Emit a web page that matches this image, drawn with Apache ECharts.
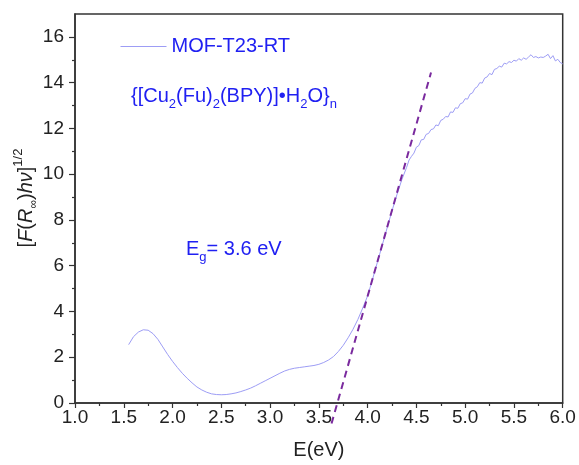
<!DOCTYPE html>
<html>
<head>
<meta charset="utf-8">
<script src="https://cdn.jsdelivr.net/npm/echarts@6/dist/echarts.min.js"></script>
<style>
html,body{margin:0;padding:0;background:#fff;}
#chart{width:579px;height:465px;}
</style>
</head>
<body>
<div id="chart"></div>
<script>
// ---- data ----
var energySmooth = [1.55,1.60,1.65,1.70,1.75,1.80,1.85,1.90,1.95,2.00,2.05,2.10,2.15,2.20,2.25,2.30,2.35,2.40,2.45,2.50,2.55,2.60,2.65,2.70,2.75,2.80,2.85,2.90,2.95,3.00,3.05,3.10,3.15,3.20,3.25,3.30,3.35,3.40,3.45,3.50,3.55,3.60,3.65,3.70,3.75,3.80,3.85,3.90,3.95,4.00,4.05,4.10,4.15,4.20,4.25,4.30,4.35];
var kmSmooth = [2.55,2.90,3.10,3.20,3.18,3.03,2.78,2.45,2.12,1.82,1.55,1.30,1.08,0.88,0.70,0.57,0.47,0.40,0.37,0.36,0.37,0.40,0.44,0.50,0.57,0.65,0.75,0.86,0.97,1.08,1.19,1.30,1.40,1.47,1.52,1.55,1.58,1.61,1.64,1.69,1.77,1.88,2.03,2.25,2.52,2.85,3.22,3.65,4.15,4.68,5.40,6.15,6.90,7.65,8.40,9.10,9.75];
var energyNoisy = [4.400,4.425,4.450,4.475,4.500,4.525,4.550,4.575,4.600,4.625,4.650,4.675,4.700,4.725,4.750,4.775,4.800,4.825,4.850,4.875,4.900,4.925,4.950,4.975,5.000,5.025,5.050,5.075,5.100,5.125,5.150,5.175,5.200,5.225,5.250,5.275,5.300,5.325,5.350,5.375,5.400,5.425,5.450,5.475,5.500,5.525,5.550,5.575,5.600,5.625,5.650,5.675,5.700,5.725,5.750,5.775,5.800,5.825,5.850,5.875,5.900,5.925,5.950,5.975,6.000];
var kmNoisy = [10.30,10.62,10.78,10.92,11.18,11.25,11.50,11.52,11.74,11.78,11.95,11.98,12.15,12.12,12.35,12.40,12.52,12.50,12.72,12.70,12.90,12.88,13.08,13.12,13.30,13.28,13.50,13.55,13.75,13.82,14.00,13.98,14.20,14.25,14.40,14.35,14.58,14.62,14.72,14.68,14.85,14.82,14.92,14.88,14.98,14.94,15.05,14.98,15.08,15.02,15.12,15.22,15.10,15.14,15.08,15.12,15.10,15.16,15.24,15.05,15.18,14.95,15.02,14.88,14.82];
var fitEnergy = [3.63, 4.65];
var fitValue = [-0.9, 14.44];
var yMajorTicks = [0,2,4,6,8,10,12,14,16];
var yMinorTicks = [1,3,5,7,9,11,13,15];
var seriesName = 'MOF-T23-RT';

// ---- build ----
var curve = [];
energySmooth.forEach(function(e,i){ curve.push([e, kmSmooth[i]]); });
energyNoisy.forEach(function(e,i){ curve.push([e, kmNoisy[i]]); });
var fit = fitEnergy.map(function(e,i){ return [e, fitValue[i]]; });

var FONT = "Arial, 'Liberation Sans', sans-serif";
var BLUE = '#2020f2';
var CURVE = '#9d9df5';
var chart = echarts.init(document.getElementById('chart'), null, {renderer:'canvas'});
chart.setOption({
  animation:false,
  backgroundColor:'#ffffff',
  grid:{left:75, right:16.3, top:14, bottom:59.3, show:true, borderColor:'#333', borderWidth:1.5, containLabel:false},
  legend:{
    data:[seriesName], left:120, top:36.5, padding:0, itemWidth:46, itemHeight:14, itemGap:5,
    itemStyle:{opacity:0},
    lineStyle:{color:CURVE, width:1},
    textStyle:{color:BLUE, fontSize:20, fontFamily:FONT}
  },
  xAxis:{
    type:'value', min:1, max:6, interval:0.5,
    name:'E(eV)', nameLocation:'middle', nameGap:37,
    nameTextStyle:{color:'#222', fontSize:20, fontFamily:FONT},
    axisLine:{show:true, lineStyle:{color:'#333', width:1.5}},
    axisTick:{show:true, inside:false, length:5, lineStyle:{color:'#333', width:1.2}},
    minorTick:{show:true, splitNumber:2, length:3, lineStyle:{color:'#333', width:1.2}},
    axisLabel:{color:'#222', fontSize:19, fontFamily:FONT, margin:5, formatter:function(v){return v.toFixed(1);}},
    splitLine:{show:false}
  },
  yAxis:[{
    type:'value', min:0, max:17, interval:1, position:'left',
    axisLine:{show:true, lineStyle:{color:'#333', width:1.5}},
    axisTick:{show:true, inside:false, length:6, customValues:yMajorTicks, lineStyle:{color:'#333', width:1.2}},
    axisLabel:{color:'#222', fontSize:19, fontFamily:FONT, margin:11, customValues:yMajorTicks},
    splitLine:{show:false}
  },{
    type:'value', min:0, max:17, interval:1, position:'left', offset:0,
    axisLine:{show:false},
    axisTick:{show:true, inside:false, length:3, customValues:yMinorTicks, lineStyle:{color:'#333', width:1.2}},
    axisLabel:{show:false},
    splitLine:{show:false}
  }],
  graphic:[
    {type:'text', x:131, y:96, style:{
      text:'{[Cu{s|2}(Fu){s|2}(BPY)]•H{s|2}O}{s|n}',
      fill:BLUE, fontSize:20, fontFamily:FONT, lineHeight:30, verticalAlign:'middle',
      rich:{s:{fontSize:13, fontFamily:FONT, fill:BLUE, verticalAlign:'bottom', lineHeight:13}}
    }},
    {type:'text', x:186, y:249, style:{
      text:'E{s|g}= 3.6 eV',
      fill:BLUE, fontSize:20, fontFamily:FONT, lineHeight:30, verticalAlign:'middle',
      rich:{s:{fontSize:13, fontFamily:FONT, fill:BLUE, verticalAlign:'bottom', lineHeight:13}}
    }},
    {type:'text', x:26, y:198, rotation:Math.PI/2, style:{
      text:'[{i|F}({i|R}{s|∞}){i|hν}]{p|1/2}',
      fill:'#222', fontSize:20, fontFamily:FONT, align:'center', verticalAlign:'middle', lineHeight:28,
      rich:{
        i:{fontStyle:'italic', fontSize:20, fontFamily:FONT, fill:'#222'},
        s:{fontSize:12, fontFamily:FONT, fill:'#222', verticalAlign:'bottom', lineHeight:12},
        p:{fontSize:13, fontFamily:FONT, fill:'#222', verticalAlign:'top', lineHeight:13}
      }
    }}
  ],
  series:[{
    name:seriesName, type:'line', data:curve, symbol:'none', smooth:false,
    lineStyle:{color:CURVE, width:1}, itemStyle:{color:CURVE}
  },{
    name:'fit', type:'line', data:fit, symbol:'none', clip:false,
    lineStyle:{color:'#7a2a9e', width:2, type:[7,5]}
  }]
});
</script>
</body>
</html>
